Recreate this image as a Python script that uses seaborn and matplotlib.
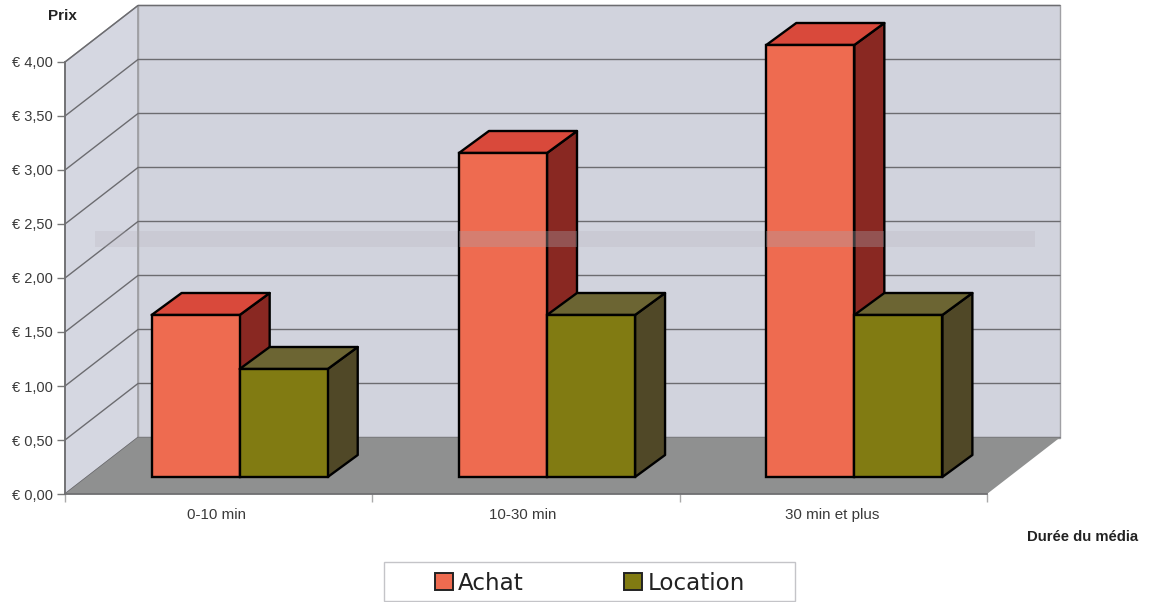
import matplotlib
matplotlib.use("Agg")
import matplotlib.pyplot as plt
from matplotlib.patches import Polygon, Patch, Rectangle
import pandas as pd
import seaborn as sns

categories = ["0-10 min", "10-30 min", "30 min et plus"]
achat = [1.5, 3.0, 4.0]
location = [1.0, 1.5, 1.5]
y_ticks = [0, 0.5, 1, 1.5, 2, 2.5, 3, 3.5, 4]
y_labels = ["€ 0,00", "€ 0,50", "€ 1,00", "€ 1,50", "€ 2,00", "€ 2,50", "€ 3,00", "€ 3,50", "€ 4,00"]

sns.set_style("white")
plt.rcParams['font.family'] = ['Liberation Sans', 'DejaVu Sans']

W, H = 1149, 602
fig = plt.figure(figsize=(W / 100, H / 100), dpi=100)
# front plane of the fake 3d box
ax = fig.add_axes([65 / W, (H - 494) / H, 922 / W, 432 / H])

df = pd.DataFrame({
    "duree": categories * 2,
    "prix": achat + location,
    "type": ["Achat"] * 3 + ["Location"] * 3,
})
front = {"Achat": "#EE6B50", "Location": "#817B12"}
top = {"Achat": "#D9493B", "Location": "#6C6533"}
side = {"Achat": "#892822", "Location": "#504827"}

sns.barplot(data=df, x="duree", y="prix", hue="type", palette=front, width=0.573, gap=0,
            saturation=1, edgecolor="black", linewidth=1.7, legend=False, ax=ax)
ax.set_xlim(-0.5, 2.5)
ax.set_ylim(0, 4)

# pixels to data units
sx = 3 / 922
sy = 4 / 432
wall_dx, wall_dy = 73 * sx, 56.5 * sy
base_dx, base_dy = 21 * sx, 17 * sy
bar_dx, bar_dy = 30 * sx, 22 * sy
band_y, band_h = (494 - 247) * sy, 16 * sy


def poly(pts, color, z, edge="none", lw=0):
    ax.add_patch(Polygon(pts, closed=True, facecolor=color, edgecolor=edge, linewidth=lw,
                         zorder=z, clip_on=False, joinstyle="round"))


x0, x1 = -0.5, 2.5
# walls and floor
poly([(x0, 0), (x0 + wall_dx, wall_dy), (x0 + wall_dx, 4 + wall_dy), (x0, 4)], "#D5D7E1", 0.1, "#8e8e92", 1)
poly([(x0 + wall_dx, wall_dy), (x1 + wall_dx, wall_dy), (x1 + wall_dx, 4 + wall_dy), (x0 + wall_dx, 4 + wall_dy)],
     "#D1D3DD", 0.2, "#a0a0a4", 1)
for t in y_ticks:
    ax.plot([x0, x0 + wall_dx, x1 + wall_dx], [t, t + wall_dy, t + wall_dy], color="#6c6c70", lw=1,
            zorder=0.3, clip_on=False)
poly([(x0, 0), (x1, 0), (x1 + wall_dx, wall_dy), (x0 + wall_dx, wall_dy)], "#8F9090", 0.4)

# grey band left by the scan, faint on the wall
ax.add_patch(Rectangle((x0 + 30 * sx, band_y), 940 * sx, band_h, facecolor="#AEA9B2", alpha=0.2,
                       edgecolor="none", zorder=0.35, clip_on=False))

# move the seaborn bars back and add the side and top faces
names = ["Achat"] * 3 + ["Location"] * 3
z = 2
order = sorted(range(6), key=lambda i: (i % 3, i >= 3))
for i in order:
    p = ax.patches[i]
    bx, bw, bh = p.get_x(), p.get_width(), p.get_height()
    name = names[i]
    l = bx + base_dx
    r = l + bw
    b = base_dy
    t = b + bh
    poly([(r, b), (r + bar_dx, b + bar_dy), (r + bar_dx, t + bar_dy), (r, t)], side[name], z, "black", 1.7)
    poly([(l, t), (r, t), (r + bar_dx, t + bar_dy), (l + bar_dx, t + bar_dy)], top[name], z + 0.1, "black", 1.7)
    p.set_x(l)
    p.set_y(b)
    p.set_zorder(z + 0.2)
    p.set_clip_on(False)
    z += 1
    # same band, stronger over the tall bars
    if t > band_y + band_h:
        ax.add_patch(Rectangle((l, band_y), r + bar_dx - l, band_h, facecolor="#A8A4AC", alpha=0.35,
                               edgecolor="none", zorder=50, clip_on=False))

for s in ["top", "right"]:
    ax.spines[s].set_visible(False)
for s in ["left", "bottom"]:
    ax.spines[s].set_color("#6f6f72")
    ax.spines[s].set_linewidth(1.3)
    ax.spines[s].set_zorder(1)

ax.set_yticks(y_ticks)
ax.set_yticklabels(y_labels, fontsize=10.5, color="#3a3a3a")
ax.set_xticks([-0.006, 0.99, 1.995])
ax.set_xticklabels(categories, fontsize=10.9, color="#3a3a3a")
ax.set_xticks([-0.5, 0.5, 1.5, 2.5], minor=True)
ax.tick_params(axis="x", which="major", length=0, pad=10)
ax.tick_params(axis="x", which="minor", length=6, width=1, color="#aaaaaa", bottom=True)
ax.tick_params(axis="y", length=6, width=1, color="#777777", left=True, pad=2.5)
ax.set_xlabel("")
ax.set_ylabel("")

fig.text(62 / W, 1 - 15.5 / H, "Prix", fontsize=11, fontweight="bold", color="#222222", ha="center", va="center")
fig.text(1082.5 / W, 1 - 537 / H, "Durée du média", fontsize=10.7, fontweight="bold", color="#222222",
         ha="center", va="center")

# legend frame is wider than the entries, so it is drawn on its own
fig.add_artist(Rectangle((383.5 / W, 1 - 601 / H), 411 / W, 39 / H, transform=fig.transFigure, facecolor="white",
                         edgecolor="#c4c4c8", linewidth=1))
handles = [Patch(facecolor=front[k], edgecolor="#222222", linewidth=1.4, label=k) for k in ["Achat", "Location"]]
fig.legend(handles=handles, ncol=2, loc="center", bbox_to_anchor=(590 / W, 1 - 583 / H),
           prop={"family": "DejaVu Sans", "size": 16.6}, frameon=False, handlelength=0.78, handleheight=0.78,
           handletextpad=0.25, columnspacing=4.35, borderpad=0, borderaxespad=0, labelcolor="#222222")

fig.savefig("out.png", dpi=100, facecolor="white")
